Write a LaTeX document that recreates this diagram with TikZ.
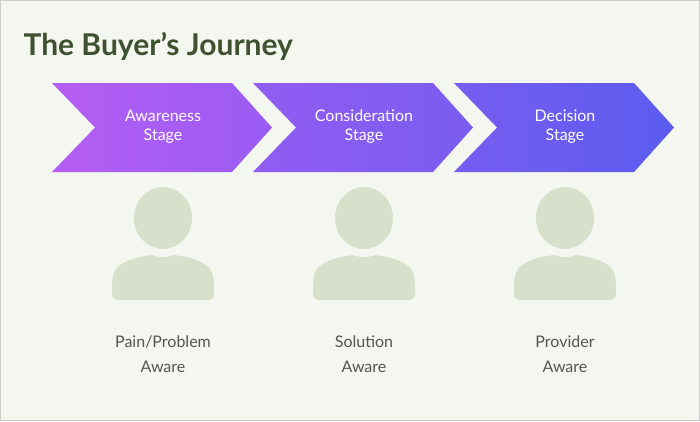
\documentclass[tikz,border=0pt]{standalone}
\usepackage{fontspec}
\setmainfont{Lato}
\usetikzlibrary{positioning}
\definecolor{paper}{HTML}{F4F6F0}
\definecolor{titlegreen}{HTML}{3F5230}
\definecolor{iconfill}{HTML}{D6E0CB}
\definecolor{textgray}{HTML}{555555}
\tikzstyle{stagetext} = [text=white, font=\fontsize{16}{19}\selectfont, align=center]
\tikzstyle{awaretext} = [text=textgray, font=\fontsize{16}{25}\selectfont, align=center]
\tikzstyle{maintitle} = [text=titlegreen, font=\fontsize{30}{34}\selectfont\bfseries, anchor=west]

\begin{document}
\begin{tikzpicture}[x=1pt, y=-1pt]
\useasboundingbox (0,0) rectangle (700,421);
\fill[paper, draw=black!20] (0.5,0.5) rectangle (699.5,420.5);
\node[maintitle] (title) at (20,46) {The Buyer’s Journey};
% chevrons
\foreach \dx/\lc/\rc/\name/\txt in {0/B55DF3/9A5CF3/aware/{Awareness\\Stage},
    201/925CF2/7A5CF0/consid/{Consideration\\Stage},
    402/785CF0/5A5CEF/decide/{Decision\\Stage}}{
  \definecolor{lc}{HTML}{\lc}\definecolor{rc}{HTML}{\rc}
  \shade[left color=lc, right color=rc, shift={(\dx,0)}]
    (52,83) -- (232,83) -- (272,127.5) -- (232,172) -- (52,172) -- (95,127.5) -- cycle;
  \node[stagetext] (\name) at (163+\dx,127) {\txt};
}
% people
\foreach \dx/\name/\txt in {0/pain/{Pain/Problem\\Aware},
    201/solution/{Solution\\Aware}, 402/provider/{Provider\\Aware}}{
  \begin{scope}[shift={(\dx,0)}]
    \fill[iconfill, rounded corners=6pt] (112,300) -- (112,280)
      .. controls (116,262) and (140,255) .. (163,255)
      .. controls (186,255) and (210,262) .. (214,280) -- (214,300) -- cycle;
    \fill[paper] (163,220) ellipse (35 and 37);
    \fill[iconfill] (163,218) ellipse (29 and 31);
  \end{scope}
  \node[awaretext] (\name) at (163+\dx,354) {\txt};
}
\end{tikzpicture}
\end{document}
